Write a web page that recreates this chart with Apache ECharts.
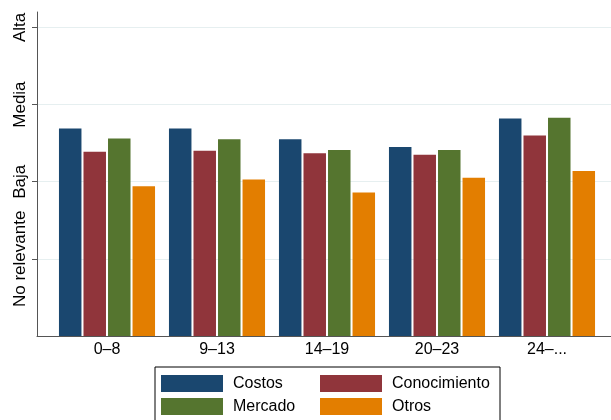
<!DOCTYPE html>
<html>
<head>
<meta charset="utf-8">
<script src="https://cdn.jsdelivr.net/npm/echarts@6/dist/echarts.min.js"></script>
<style>
html,body{margin:0;padding:0;background:#fff;}
#chart{width:611px;height:420px;}
</style>
</head>
<body>
<div id="chart"></div>
<script>
const categories = ['0\u20138', '9\u201313', '14\u201319', '20\u201323', '24\u2013...'];
const costos       = [2.69, 2.69, 2.55, 2.45, 2.82];
const conocimiento = [2.39, 2.40, 2.37, 2.35, 2.60];
const mercado      = [2.56, 2.55, 2.41, 2.41, 2.83];
const otros        = [1.94, 2.03, 1.86, 2.05, 2.14];
const yTickLabels  = ['', 'No relevante', 'Baja', 'Media', 'Alta'];
const yTickValues  = [1, 2, 3, 4];

const FONT = 'Liberation Sans, Arial, Helvetica, sans-serif';
const colors = ['#1a476f', '#90353b', '#55752f', '#e37e00'];

const chart = echarts.init(document.getElementById('chart'), null, {renderer: 'canvas'});

function barSeries(name, data, color) {
  return {
    name: name, type: 'bar', xAxisIndex: 1, yAxisIndex: 1,
    data: data, barWidth: 22.5, barGap: '9%',
    itemStyle: {color: color},
    emphasis: {disabled: true}
  };
}

chart.setOption({
  animation: false,
  color: colors,
  textStyle: {fontFamily: FONT},
  grid: [
    {left: 37, right: 0, top: 12, bottom: 84},
    {left: 52, right: 9, top: 12, bottom: 84}
  ],
  xAxis: [
    {
      type: 'category', gridIndex: 0, data: [''],
      axisLine: {show: true, lineStyle: {color: '#555', width: 1}},
      axisTick: {show: false}, axisLabel: {show: false}, splitLine: {show: false}
    },
    {
      type: 'category', gridIndex: 1, data: categories,
      axisLine: {show: false}, axisTick: {show: false},
      axisLabel: {show: true, color: '#000', fontSize: 16, fontFamily: FONT, margin: 6}
    }
  ],
  yAxis: [
    {
      type: 'value', gridIndex: 0, min: 0, max: 4.2, interval: 1,
      axisLine: {show: true, lineStyle: {color: '#555', width: 1}},
      axisTick: {show: true, length: 5, lineStyle: {color: '#555'}, customValues: yTickValues},
      axisLabel: {
        show: true, rotate: 90, color: '#000', fontSize: 17, fontFamily: FONT, margin: 8,
        customValues: yTickValues,
        formatter: function (v) { return yTickLabels[Math.round(v)] || ''; }
      },
      splitLine: {show: true, lineStyle: {color: '#e6eff0', width: 1}}
    },
    {
      type: 'value', gridIndex: 1, min: 0, max: 4.2, interval: 1, show: false,
      splitLine: {show: false}
    }
  ],
  legend: {
    left: 155, top: 367,
    width: 345,
    orient: 'horizontal',
    padding: [8, 3, 8, 6],
    borderColor: '#000', borderWidth: 1,
    itemWidth: 62, itemHeight: 17, itemGap: 6,
    icon: 'rect',
    selectedMode: false,
    textStyle: {fontSize: 16, color: '#000', fontFamily: FONT, padding: [0, 0, 0, 5], lineHeight: 17},
    data: [
      {name: 'Costos', textStyle: {width: 81}},
      {name: 'Conocimiento', textStyle: {width: 105}},
      {name: 'Mercado', textStyle: {width: 81}},
      {name: 'Otros', textStyle: {width: 105}}
    ]
  },
  series: [
    barSeries('Costos', costos, colors[0]),
    barSeries('Conocimiento', conocimiento, colors[1]),
    barSeries('Mercado', mercado, colors[2]),
    barSeries('Otros', otros, colors[3])
  ]
});
</script>
</body>
</html>
